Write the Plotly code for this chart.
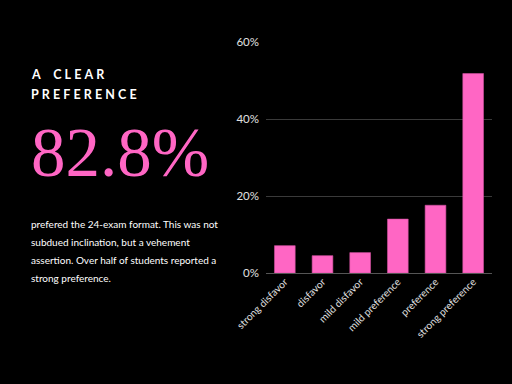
import plotly.graph_objects as go

categories = ["strong disfavor", "disfavor", "mild disfavor", "mild preference", "preference", "strong preference"]
values = [7.1, 4.5, 5.3, 14.0, 17.6, 51.8]
y_ticks = [0, 20, 40, 60]
y_tick_labels = ["0%", "20%", "40%", "60%"]

headline_lines = ["A CLEAR", "PREFERENCE"]
big_number = "82.8%"
body_lines = [
    "prefered the 24-exam format. This was not",
    "subdued inclination, but a vehement",
    "assertion. Over half of students reported a",
    "strong preference.",
]

PINK = "#ff66c4"
GAP = "\u2009\u2009"

def spaced(s):
    words = s.split(" ")
    return (GAP + "\u2002" + GAP).join(GAP.join(list(w)) for w in words)

fig = go.Figure(go.Bar(
    x=categories, y=values,
    marker=dict(color=PINK, line=dict(color="#d0509f", width=0.6)),
    hoverinfo="skip",
))

fig.update_layout(
    width=512, height=384,
    paper_bgcolor="black", plot_bgcolor="black",
    margin=dict(l=266, r=20, t=42, b=111),
    bargap=0.45,
    showlegend=False,
)
fig.update_yaxes(
    range=[0, 60], tickvals=y_ticks, ticktext=y_tick_labels,
    showgrid=True, gridcolor="#3a3a3a", gridwidth=1,
    zeroline=True, zerolinecolor="#555555", zerolinewidth=1,
    tickfont=dict(family="Lato", size=11.5, color="#e0e0e0"),
    ticks="", ticklen=0, ticklabelstandoff=6,
)
fig.update_xaxes(
    tickangle=-45, tickfont=dict(family="Lato", size=10.2, color="#e0e0e0"),
    showgrid=False, ticks="",
)

annotations = []
for i, line in enumerate(headline_lines):
    annotations.append(dict(
        text="<b>" + spaced(line) + "</b>", x=29, y=384 - (74 + 20 * i),
        xref="paper", yref="paper", showarrow=False, xanchor="left", yanchor="middle",
        font=dict(family="Lato", size=12.5, color="white"),
    ))
annotations.append(dict(
    text=big_number, x=29, y=384 - 153,
    xref="paper", yref="paper", showarrow=False, xanchor="left", yanchor="middle",
    font=dict(family="Liberation Serif", size=69, color=PINK),
))
for i, line in enumerate(body_lines):
    annotations.append(dict(
        text=line, x=29, y=384 - (224 + 18 * i),
        xref="paper", yref="paper", showarrow=False, xanchor="left", yanchor="middle",
        font=dict(family="Lato", size=10, color="white"),
    ))

# convert pixel coords into paper coords
pw, ph = 512 - 266 - 20, 384 - 42 - 111
for a in annotations:
    a["x"] = (a["x"] - 266) / pw
    a["y"] = (a["y"] - 111) / ph
fig.update_layout(annotations=annotations)

fig.write_html(
    "out.html",
    config={"displayModeBar": False},
    post_script="document.body.style.margin='0';document.body.style.background='black';",
)
